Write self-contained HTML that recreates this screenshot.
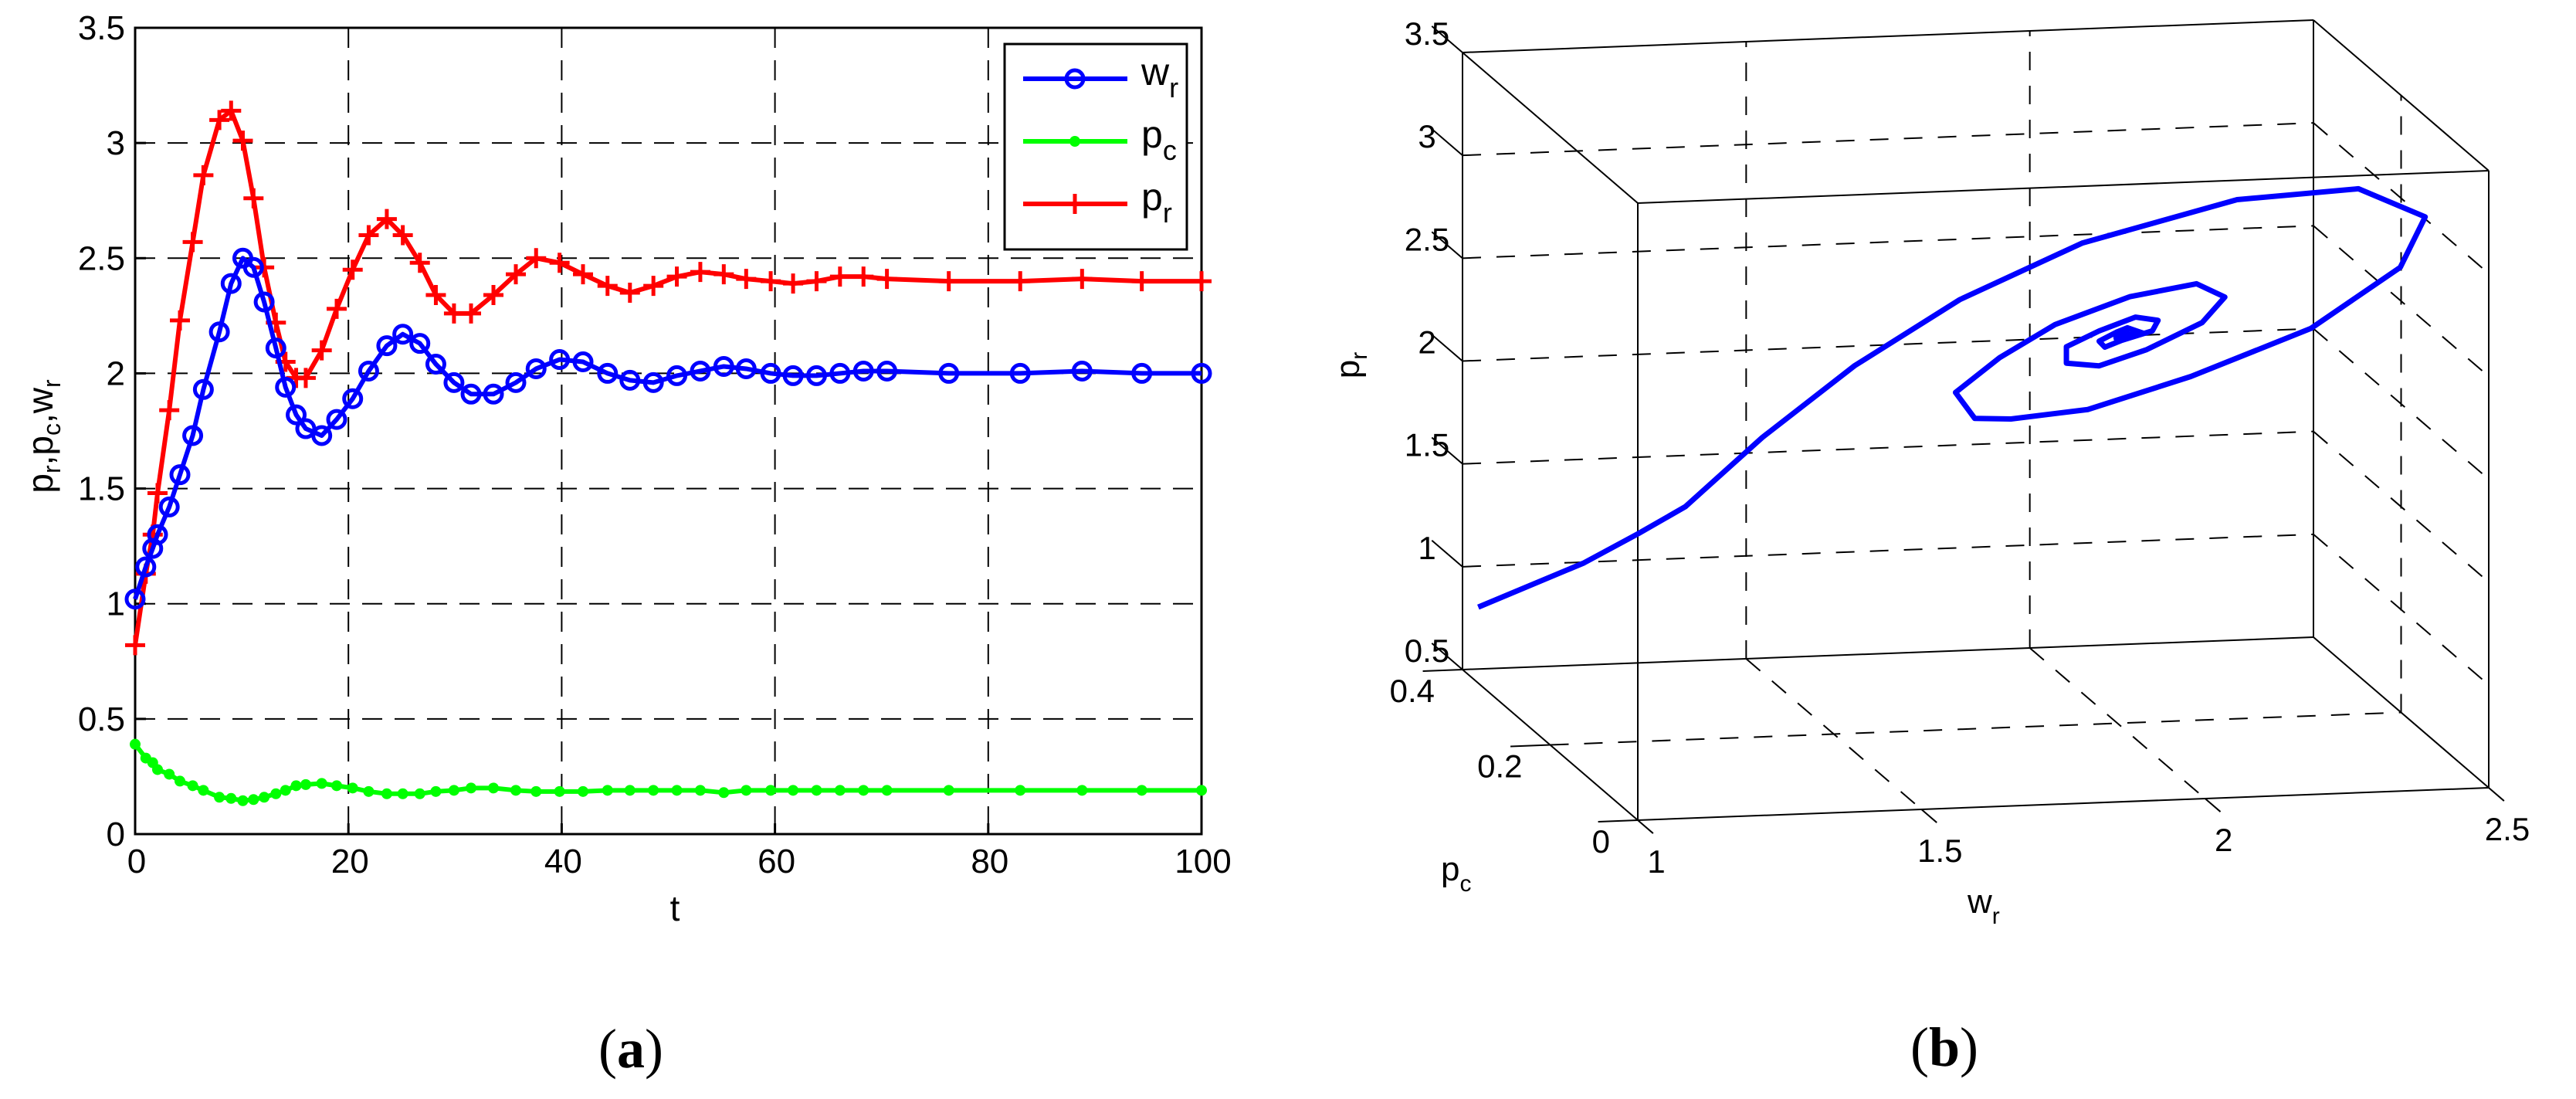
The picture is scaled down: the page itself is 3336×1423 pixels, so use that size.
<!DOCTYPE html>
<html><head><meta charset="utf-8"><style>
html,body{margin:0;padding:0;background:#fff}
svg{display:block}
text{font-family:"Liberation Sans",sans-serif;fill:#000}
</style></head><body>
<svg id="fig" width="3336" height="1423" viewBox="0 0 3336 1423" xmlns="http://www.w3.org/2000/svg">
<g id="left"></g>
<g id="right"></g>
<text x="817" y="1382" text-anchor="middle" style="font-family:'Liberation Serif',serif;font-size:72px">(<tspan font-weight="bold">a</tspan>)</text>
<text x="2518" y="1380" text-anchor="middle" style="font-family:'Liberation Serif',serif;font-size:72px">(<tspan font-weight="bold">b</tspan>)</text>
</svg>
<script>
const tVals=[0,1.0,1.65,2.1,3.2,4.2,5.4,6.4,7.9,9.0,10.1,11.1,12.1,13.2,14.1,15.1,16.0,17.5,18.9,20.4,21.9,23.6,25.1,26.7,28.2,29.9,31.5,33.6,35.7,37.6,39.8,42.0,44.3,46.4,48.6,50.8,53.0,55.2,57.3,59.6,61.7,63.9,66.1,68.3,70.5,76.3,83.0,88.8,94.4,100];
const wrVals=[1.02,1.16,1.24,1.30,1.42,1.56,1.73,1.93,2.18,2.39,2.50,2.46,2.31,2.11,1.94,1.82,1.76,1.73,1.80,1.89,2.01,2.12,2.17,2.13,2.04,1.96,1.91,1.91,1.96,2.02,2.06,2.05,2.00,1.97,1.96,1.99,2.01,2.03,2.02,2.00,1.99,1.99,2.00,2.01,2.01,2.00,2.00,2.01,2.00,2.00];
const pcVals=[0.39,0.33,0.31,0.28,0.26,0.23,0.21,0.19,0.16,0.155,0.145,0.15,0.16,0.175,0.19,0.21,0.215,0.22,0.21,0.20,0.185,0.175,0.175,0.175,0.185,0.19,0.20,0.20,0.19,0.185,0.185,0.185,0.19,0.19,0.19,0.19,0.19,0.18,0.19,0.19,0.19,0.19,0.19,0.19,0.19,0.19,0.19,0.19,0.19,0.19];
const prVals=[0.82,1.13,1.30,1.48,1.84,2.23,2.57,2.86,3.10,3.14,3.01,2.76,2.46,2.22,2.05,1.98,1.98,2.10,2.28,2.45,2.60,2.67,2.60,2.48,2.34,2.26,2.26,2.34,2.43,2.50,2.48,2.43,2.38,2.35,2.38,2.42,2.44,2.43,2.41,2.40,2.39,2.40,2.42,2.42,2.41,2.40,2.40,2.41,2.40,2.40];
const xTicks=[0,20,40,60,80,100];
const yTicks=[0,0.5,1,1.5,2,2.5,3,3.5];
const zTicks3=[0.5,1,1.5,2,2.5,3,3.5];
const wTicks3=[1,1.5,2,2.5];
const pcTicks3=[0,0.2,0.4];

const NS="http://www.w3.org/2000/svg";
function mk(parent,tag,attrs){const e=document.createElementNS(NS,tag);for(const k in attrs)e.setAttribute(k,attrs[k]);parent.appendChild(e);return e;}

// ---- left chart ----
const L=document.getElementById('left');
const X0=175,X1=1556,Y0=1080,Y1=36;
const sx=t=>X0+(t/100)*(X1-X0);
const sy=v=>Y0-(v/3.5)*(Y0-Y1);
const dash={stroke:'#000','stroke-width':2,'stroke-dasharray':'26 16',fill:'none'};
xTicks.forEach(t=>{
  if(t>0&&t<100){const g=mk(L,'line',Object.assign({x1:sx(t),x2:sx(t),y1:Y1,y2:Y0},dash));
  
  }
  mk(L,'line',{x1:sx(t),x2:sx(t),y1:Y0,y2:Y0-14,stroke:'#000','stroke-width':3});
  const tt=mk(L,'text',{x:sx(t)+2,y:1130,'text-anchor':'middle','font-size':44});
  tt.textContent=t;
  
  
});
yTicks.forEach(v=>{
  if(v>0&&v<3.5){const g=mk(L,'line',Object.assign({x1:X0,x2:X1,y1:sy(v),y2:sy(v)},dash));
  
  }
  mk(L,'line',{x1:X0,x2:X0+14,y1:sy(v),y2:sy(v),stroke:'#000','stroke-width':3});
  const tt=mk(L,'text',{x:162,y:sy(v)+15,'text-anchor':'end','font-size':44});
  tt.textContent=v;
  
  
});
const box=mk(L,'rect',{x:X0,y:Y1,width:X1-X0,height:Y0-Y1,fill:'none',stroke:'#000','stroke-width':3});



function poly(arr,color,name){
  const p=mk(L,'polyline',{points:tVals.map((t,i)=>sx(t)+','+sy(arr[i])).join(' '),fill:'none',stroke:color,'stroke-width':6,'stroke-linejoin':'round'});
  
  
}
poly(pcVals,'#00ff00','pc-line');
tVals.forEach((t,i)=>{const c=mk(L,'circle',{cx:sx(t),cy:sy(pcVals[i]),r:7,fill:'#00ff00'});
  
  });
poly(prVals,'#ff0000','pr-line');
tVals.forEach((t,i)=>{const x=sx(t),y=sy(prVals[i]);
  const g=mk(L,'path',{d:`M${x-13} ${y}H${x+13}M${x} ${y-13}V${y+13}`,stroke:'#ff0000','stroke-width':5});
  
  });
poly(wrVals,'#0000ff','wr-line');
tVals.forEach((t,i)=>{const c=mk(L,'circle',{cx:sx(t),cy:sy(wrVals[i]),r:11,fill:'none',stroke:'#0000ff','stroke-width':5});
  
  });

const xl=mk(L,'text',{x:874,y:1192,'text-anchor':'middle','font-size':46});xl.textContent='t';


const yl=mk(L,'text',{transform:'translate(68,565) rotate(-90)','text-anchor':'middle','font-size':46});
yl.innerHTML='p<tspan font-size="32" dy="10">r</tspan><tspan dy="-10">,p</tspan><tspan font-size="32" dy="10">c</tspan><tspan dy="-10">,w</tspan><tspan font-size="32" dy="10">r</tspan>';



// legend
const lg=mk(L,'g',{});


mk(lg,'rect',{x:1301,y:57,width:236,height:266,fill:'#fff',stroke:'#000','stroke-width':3});
const rows=[['w','r','#0000ff','o',102],['p','c','#00ff00','.',183],['p','r','#ff0000','+',264]];
rows.forEach(r=>{
  const [a,b,col,m,y]=r;
  const e=mk(lg,'g',{});
  
  
  mk(e,'line',{x1:1325,x2:1460,y1:y,y2:y,stroke:col,'stroke-width':6});
  if(m==='o')mk(e,'circle',{cx:1392,cy:y,r:11,fill:'none',stroke:col,'stroke-width':5});
  if(m==='.')mk(e,'circle',{cx:1392,cy:y,r:7,fill:col});
  if(m==='+')mk(e,'path',{d:`M1379 ${y}H1405M1392 ${y-13}V${y+13}`,stroke:col,'stroke-width':5});
  const tx=mk(e,'text',{x:1478,y:y+8,'font-size':50});
  tx.innerHTML=a+'<tspan font-size="36" dy="16">'+b+'</tspan>';
});

// ---- right 3D chart ----
const R=document.getElementById('right');
const B=[2121,1062], EW=[1102,-42], EPC=[-227,-195], EZ=[0,-799];
function P(w,pc,z){const a=(w-1)/1.5,b=pc/0.4,c=(z-0.5)/3;return [B[0]+a*EW[0]+b*EPC[0]+c*EZ[0],B[1]+a*EW[1]+b*EPC[1]+c*EZ[1]];}
function ln(p,q,style,name){const e=mk(R,'line',Object.assign({x1:p[0],y1:p[1],x2:q[0],y2:q[1]},style));
  
  return e;}
const thin={stroke:'#000','stroke-width':2};
const dsh={stroke:'#000','stroke-width':2,'stroke-dasharray':'24 20'};
zTicks3.forEach(z=>{
  if(z>0.5&&z<3.5){ln(P(1,0.4,z),P(2.5,0.4,z),dsh,'z-gridline');ln(P(2.5,0.4,z),P(2.5,0,z),dsh,'z-gridline');}
  ln(P(1,0.4,z),P(1,0.47,z),thin,'z-tick');
  const p=P(1,0.4,z);const t=mk(R,'text',{x:p[0]-46,y:p[1]-10,'text-anchor':'middle','font-size':42});
  t.textContent=z;
  
  
});
wTicks3.forEach(w=>{
  if(w>1&&w<2.5){ln(P(w,0.4,0.5),P(w,0.4,3.5),dsh,'w-gridline');ln(P(w,0.4,0.5),P(w,0,0.5),dsh,'w-gridline');}
  ln(P(w,0,0.5),P(w,-0.035,0.5),thin,'w-tick');
  const p=P(w,0,0.5);const t=mk(R,'text',{x:p[0]+24,y:p[1]+68,'text-anchor':'middle','font-size':42});
  t.textContent=w;
  
  
});
pcTicks3.forEach(pc=>{
  if(pc>0&&pc<0.4){ln(P(1,pc,0.5),P(2.5,pc,0.5),dsh,'pc-gridline');ln(P(2.5,pc,0.5),P(2.5,pc,3.5),dsh,'pc-gridline');}
  ln(P(1,pc,0.5),P(0.93,pc,0.5),thin,'pc-tick');
  const p=P(1,pc,0.5);const t=mk(R,'text',{x:p[0]-36,y:p[1]+42,'text-anchor':'end','font-size':42});
  t.textContent=pc;
  
  
});
const corners=[[1,0.4],[1,0],[2.5,0],[2.5,0.4]];
for(let i=0;i<4;i++){const a=corners[i],b=corners[(i+1)%4];
  ln(P(a[0],a[1],0.5),P(b[0],b[1],0.5),thin,'box-edge');
  ln(P(a[0],a[1],3.5),P(b[0],b[1],3.5),thin,'box-edge');
  ln(P(a[0],a[1],0.5),P(a[0],a[1],3.5),thin,'box-edge');}
const cv=mk(R,'polyline',{points:tVals.map((t,i)=>P(wrVals[i],pcVals[i],prVals[i]).join(',')).join(' '),fill:'none',stroke:'#0000ff','stroke-width':7,'stroke-linejoin':'round'});


const t1=mk(R,'text',{transform:'translate(1760,473) rotate(-90)','text-anchor':'middle','font-size':44});
t1.innerHTML='p<tspan font-size="30" dy="10">r</tspan>';


const t2=mk(R,'text',{x:1866,y:1140,'font-size':44});
t2.innerHTML='p<tspan font-size="30" dy="14">c</tspan>';


const t3=mk(R,'text',{x:2548,y:1182,'font-size':44});
t3.innerHTML='w<tspan font-size="30" dy="14">r</tspan>';


</script>
</body></html>
